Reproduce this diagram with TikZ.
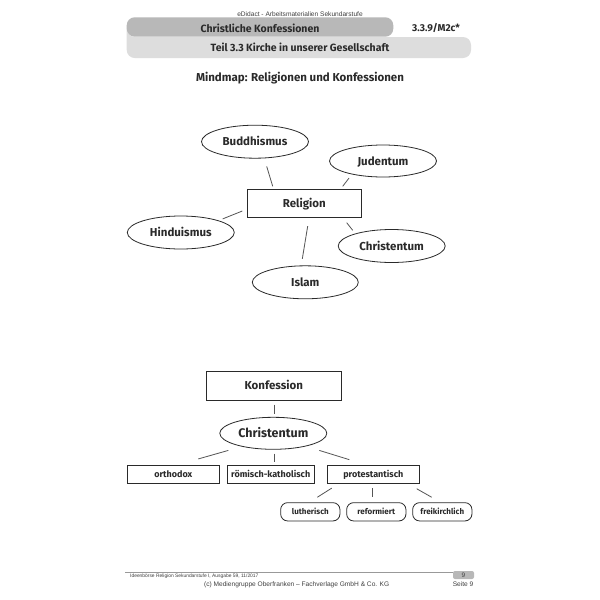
\documentclass[tikz,border=0pt]{standalone}
\usepackage{fontspec}
\setmainfont{Fira Sans}
\newfontfamily\arialfont{Liberation Sans}
\usetikzlibrary{shapes.geometric}
\definecolor{tabdark}{HTML}{B8B8B8}
\definecolor{tablight}{HTML}{DDDDDD}
\definecolor{ink}{HTML}{2A2A2A}
\definecolor{lineink}{HTML}{555555}
\tikzset{
  ell/.style={ellipse, draw=ink, line width=0.8pt, minimum width=107pt, minimum height=33pt, inner sep=0pt, text height=10.5pt, text depth=2.3pt, font=\bfseries\fontsize{11.5}{12}\selectfont, text=ink},
  rbox/.style={rectangle, draw=ink, line width=0.8pt, inner sep=0pt, text height=10.5pt, text depth=2.3pt, font=\bfseries\fontsize{11.5}{12}\selectfont, text=ink},
  sbox/.style={rectangle, draw=ink, line width=0.8pt, minimum height=18.3pt, inner sep=0pt, text height=8.3pt, text depth=1.8pt, font=\bfseries\fontsize{9}{10}\selectfont, text=ink},
  pill/.style={rectangle, rounded corners=7pt, draw=ink, line width=0.8pt, minimum width=59.3pt, minimum height=18.3pt, inner sep=0pt, text height=7.2pt, text depth=1.6pt, font=\bfseries\fontsize{8}{9}\selectfont, text=ink},
  conn/.style={draw=lineink, line width=0.8pt},
  hdr/.style={font=\bfseries\fontsize{10.5}{12}\selectfont, text=ink, inner sep=0pt},
  small/.style={font=\arialfont\fontsize{6.6}{8}\selectfont, text=black!75, inner sep=0pt}
}
\begin{document}
\begin{tikzpicture}[x=1pt,y=-1pt]
\useasboundingbox[fill=white] (0,0) rectangle (600,600);
% header
\node[small] (edid) at (300,14.5) {eDidact - Arbeitsmaterialien Sekundarstufe};
\fill[tablight, rounded corners=8pt] (126.7,30) -- (126.7,58) -- (471,58) -- (471,37) -- (126.7,37) -- cycle;
\fill[tabdark, rounded corners=8pt] (126.7,36.7) -- (126.7,17.3) -- (393.3,17.3) -- (393.3,36.7) -- cycle;
\node[hdr] (h1) at (260,28) {Christliche Konfessionen};
\node[hdr, font=\bfseries\fontsize{10}{12}\selectfont] (h2) at (436,28) {3.3.9/M2c*};
\node[hdr] (h3) at (300,47.5) {Teil 3.3 Kirche in unserer Gesellschaft};
\node[hdr, font=\bfseries\fontsize{11.5}{13}\selectfont] (title) at (300,78) {Mindmap: Religionen und Konfessionen};
% mindmap 1
\node[rbox, minimum width=114pt, minimum height=28pt] (rel) at (304.3,203.5) {Religion};
\node[ell] (bud) at (255,141.7) {Buddhismus};
\node[ell, minimum height=32pt] (jud) at (383,161) {Judentum};
\node[ell] (hin) at (180.8,232.5) {Hinduismus};
\node[ell] (chr) at (391.7,246) {Christentum};
\node[ell, minimum width=106pt] (isl) at (305.3,282.3) {Islam};
\draw[conn] ([shift={(11.7,7.8)}]bud.south) -- ([shift={(-31.6,-2.8)}]rel.north);
\draw[conn] ([shift={(-34,0.7)}]jud.south) -- ([shift={(38.4,-2.8)}]rel.north);
\draw[conn] ([shift={(41.9,3.3)}]hin.north) -- ([shift={(-4.6,7.5)}]rel.west);
\draw[conn] ([shift={(42.4,4.8)}]rel.south) -- ([shift={(-39,1.2)}]chr.north);
\draw[conn] ([shift={(3.4,8.2)}]rel.south) -- ([shift={(-3,-6.5)}]isl.north);
% mindmap 2
\node[rbox, minimum width=135.7pt, minimum height=28.3pt] (konf) at (273.8,385.8) {Konfession};
\node[ell, minimum height=32pt, text height=11.3pt, text depth=2.5pt, font=\bfseries\fontsize{12.5}{13}\selectfont] (chr2) at (273.3,433.3) {Christentum};
\node[sbox, minimum width=92pt] (orth) at (173.3,474.2) {orthodox};
\node[sbox, minimum width=86.7pt] (rk) at (270.7,474.2) {römisch-katholisch};
\node[sbox, minimum width=91.3pt] (prot) at (373.3,474.2) {protestantisch};
\node[pill] (luth) at (310.3,511.8) {lutherisch};
\node[pill] (ref) at (376.3,511.8) {reformiert};
\node[pill] (frei) at (442.3,511.8) {freikirchlich};
\draw[conn] ([shift={(0.2,4.3)}]konf.south) -- ([shift={(0.7,-3)}]chr2.north);
\draw[conn] ([shift={(-45,0.7)}]chr2.south) -- ([shift={(25,-5.7)}]orth.north);
\draw[conn] ([shift={(0.7,4)}]chr2.south) -- ([shift={(3.3,-2.7)}]rk.north);
\draw[conn] ([shift={(46,0.7)}]chr2.south) -- ([shift={(-24,-5)}]prot.north);
\draw[conn] ([shift={(-41.6,4.4)}]prot.south) -- ([shift={(7,-5)}]luth.north);
\draw[conn] ([shift={(-1,4.4)}]prot.south) -- ([shift={(-4,-5)}]ref.north);
\draw[conn] ([shift={(43.4,5)}]prot.south) -- ([shift={(-10.6,-5)}]frei.north);
% footer
\draw[black!40, line width=0.5pt] (125,572.5) coordinate (fl) -- (453,572.5) coordinate (fr);
\fill[tabdark, rounded corners=2pt] (453,571) rectangle (474,579);
\node[small, font=\arialfont\fontsize{6.5}{8}\selectfont] (pnum) at (463.5,575) {9};
\node[small, anchor=west, font=\arialfont\fontsize{4.9}{6}\selectfont] (ideen) at (130,576.5) {Ideenbörse Religion Sekundarstufe I, Ausgabe 59, 11/2017};
\node[small] (copy) at (296.7,584.5) {(c) Mediengruppe Oberfranken – Fachverlage GmbH \& Co. KG};
\node[small, anchor=east] (seite) at (473.5,584.5) {Seite 9};
\end{tikzpicture}
\end{document}
